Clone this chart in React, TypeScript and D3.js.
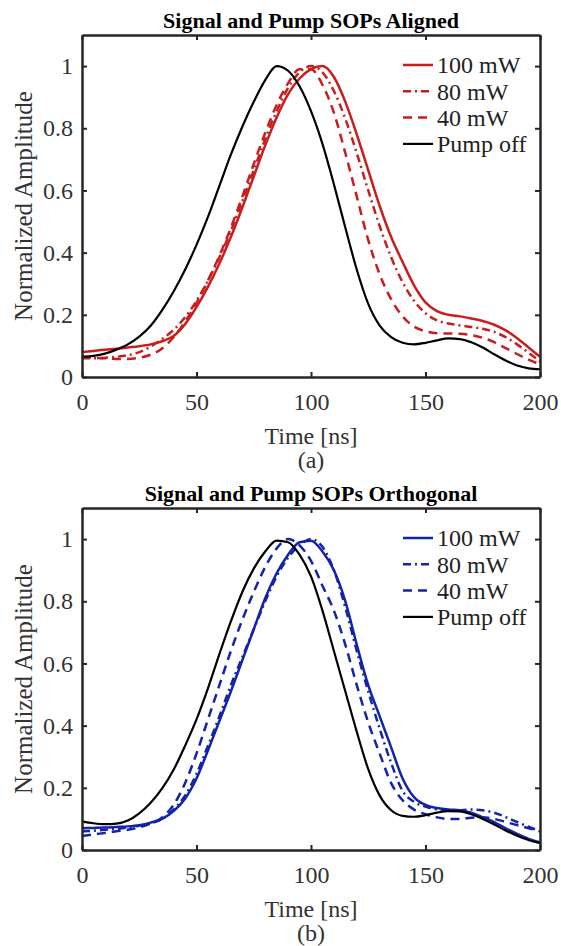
import React, { useEffect, useRef } from 'react';
import * as d3 from 'd3';

// time grid (ns) shared by every trace
const timeNs = [0, 5, 10, 15, 20, 25, 30, 35, 40, 45, 50, 55, 60, 65, 70, 75, 80, 85, 90, 95, 100,
  105, 110, 115, 120, 125, 130, 135, 140, 145, 150, 155, 160, 165, 170, 175, 180, 185, 190, 195, 200];

// (a) signal and pump SOPs aligned
const alignedP100 = [.08, .084, .088, .091, .095, .099, .105, .115, .132, .17, .225, .29, .365, .45, .545, .645, .745, .835, .91, .96, .99,
  1.0, .965, .885, .78, .665, .55, .45, .37, .295, .24, .212, .2, .195, .188, .18, .168, .15, .125, .095, .065];
const alignedP80 = [.06, .06, .062, .065, .07, .08, .098, .122, .152, .192, .245, .31, .385, .47, .565, .665, .765, .855, .93, .98, 1.0,
  .98, .92, .83, .72, .6, .485, .385, .305, .245, .205, .182, .172, .166, .161, .155, .145, .128, .105, .078, .05];
const alignedP40 = [.065, .062, .06, .058, .058, .062, .072, .092, .128, .178, .238, .31, .39, .48, .58, .685, .785, .875, .945, .99, .99,
  .94, .85, .72, .58, .44, .33, .25, .195, .162, .147, .141, .14, .139, .135, .126, .112, .093, .074, .056, .04];
const alignedOff = [.065, .068, .075, .088, .105, .13, .165, .215, .275, .345, .425, .515, .615, .715, .805, .885, .955, 1.0, .985, .935, .855,
  .75, .62, .48, .345, .235, .165, .128, .11, .105, .11, .118, .124, .122, .112, .095, .073, .053, .037, .028, .025];

// (b) signal and pump SOPs orthogonal
const orthoP100 = [.07, .071, .072, .074, .076, .08, .088, .1, .125, .165, .23, .32, .415, .51, .61, .71, .81, .89, .95, .99, .995,
  .96, .9, .8, .66, .53, .43, .33, .23, .17, .145, .135, .13, .128, .12, .105, .09, .07, .052, .036, .025];
const orthoP80 = [.06, .062, .065, .068, .072, .078, .086, .1, .13, .175, .245, .335, .43, .53, .62, .71, .8, .88, .94, .98, 1.0,
  .975, .9, .78, .64, .51, .39, .28, .19, .155, .14, .13, .126, .128, .13, .128, .12, .106, .09, .075, .06];
const orthoP40 = [.045, .05, .055, .06, .065, .073, .085, .105, .145, .215, .31, .42, .53, .64, .74, .83, .91, .97, 1.0, .98, .93,
  .85, .77, .66, .53, .41, .31, .215, .16, .13, .115, .105, .1, .1, .104, .105, .1, .09, .08, .07, .06];
const orthoOff = [.092, .086, .083, .085, .095, .118, .152, .198, .258, .335, .42, .52, .63, .735, .83, .905, .96, .995, .99, .95, .88,
  .77, .64, .51, .38, .26, .175, .128, .11, .107, .112, .12, .125, .124, .115, .1, .082, .063, .046, .032, .022];

const timeTicks = [0, 50, 100, 150, 200];
const ampTicks = [0, 0.2, 0.4, 0.6, 0.8, 1];
const legendLabels = ['100 mW', '80 mW', '40 mW', 'Pump off'];

const FONT = 'Liberation Serif';
const AXIS = '#262626';

function drawPanel(svg, top, title, tag, color, series) {
  const left = 82, right = 540, bottom = top + 342;
  const x = d3.scaleLinear().domain([0, 200]).range([left, right]);
  const y = d3.scaleLinear().domain([0, 1.1]).range([bottom, top]);
  const g = svg.append('g');

  const styles = [
    { color, width: 2.5, dash: null },
    { color, width: 2.5, dash: '8,4,2,4' },
    { color, width: 2.5, dash: '9,6' },
    { color: '#000', width: 2.2, dash: null },
  ];

  const line = d3.line()
    .x((d, i) => x(timeNs[i]))
    .y(d => y(d))
    .curve(d3.curveMonotoneX);

  series.forEach((vals, k) => {
    g.append('path')
      .attr('d', line(vals))
      .attr('fill', 'none')
      .attr('stroke', styles[k].color)
      .attr('stroke-width', styles[k].width)
      .attr('stroke-dasharray', styles[k].dash)
      .attr('stroke-linejoin', 'round');
  });

  // axes, ticks pointing inward
  const axes = [
    [d3.axisBottom(x).tickValues(timeTicks), `translate(0,${bottom})`],
    [d3.axisTop(x).tickValues(timeTicks).tickFormat(() => ''), `translate(0,${top})`],
    [d3.axisLeft(y).tickValues(ampTicks).tickFormat(d => String(d)), `translate(${left},0)`],
    [d3.axisRight(y).tickValues(ampTicks).tickFormat(() => ''), `translate(${right},0)`],
  ];
  axes.forEach(([ax, tr], i) => {
    const a = g.append('g')
      .attr('transform', tr)
      .call(ax.tickSizeInner(-5).tickSizeOuter(0).tickPadding(9));
    a.attr('font-family', FONT).attr('font-size', 24);
    a.select('.domain').attr('stroke', AXIS).attr('stroke-width', 2.5);
    a.selectAll('line').attr('stroke', AXIS).attr('stroke-width', 2);
    a.selectAll('text').attr('fill', '#333');
    if (i === 0) a.selectAll('text').attr('dy', null).attr('y', 33);
  });

  const label = (txt, xx, yy, size = 24, weight = 'normal') =>
    g.append('text')
      .attr('x', xx)
      .attr('y', yy)
      .attr('text-anchor', 'middle')
      .attr('fill', weight === 'bold' ? '#000' : '#333')
      .attr('font-family', FONT)
      .attr('font-size', size)
      .attr('font-weight', weight)
      .text(txt);

  label(title, (left + right) / 2, top - 7, 22, 'bold');
  label('Time [ns]', (left + right) / 2, bottom + 67);
  label(tag, (left + right) / 2, bottom + 91);
  label('Normalized Amplitude', 0, 0, 25)
    .attr('transform', `translate(32,${(top + bottom) / 2}) rotate(-90)`);

  // legend
  const leg = g.append('g').attr('transform', `translate(${right - 137},${top + 30})`);
  legendLabels.forEach((lab, k) => {
    const row = leg.append('g').attr('transform', `translate(0,${k * 26.3})`);
    row.append('line')
      .attr('x1', 0).attr('x2', 30)
      .attr('stroke', styles[k].color)
      .attr('stroke-width', styles[k].width)
      .attr('stroke-dasharray', styles[k].dash);
    row.append('text')
      .attr('x', 34)
      .attr('dy', '0.35em')
      .attr('fill', '#222')
      .attr('font-family', FONT)
      .attr('font-size', 24)
      .text(lab);
  });
}

export default function App() {
  const ref = useRef(null);

  useEffect(() => {
    const svg = d3.select(ref.current);
    svg.selectAll('*').remove();
    drawPanel(svg, 35, 'Signal and Pump SOPs Aligned', '(a)', '#c81e1e',
      [alignedP100, alignedP80, alignedP40, alignedOff]);
    drawPanel(svg, 508, 'Signal and Pump SOPs Orthogonal', '(b)', '#1424a8',
      [orthoP100, orthoP80, orthoP40, orthoOff]);
  }, []);

  return (
    <svg ref={ref} width={561} height={946}
      style={{ position: 'absolute', left: 0, top: 0, background: '#fff' }} />
  );
}
